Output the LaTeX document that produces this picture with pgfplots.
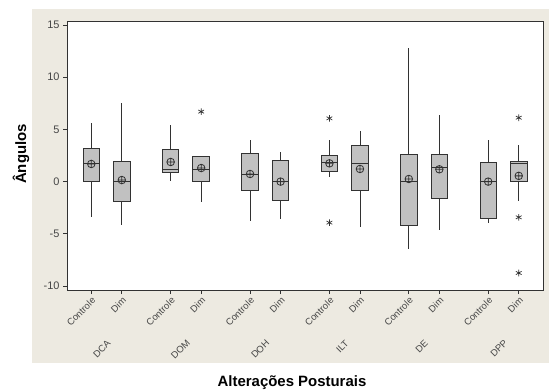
\documentclass[border=0pt]{standalone}
\usepackage{pgfplots}
\pgfplotsset{compat=1.18}
\usepgfplotslibrary{statistics}
\usepackage{fontspec}
\setmainfont{Liberation Sans}
\definecolor{panel}{RGB}{237,234,225}
\definecolor{boxfill}{RGB}{193,193,193}
\definecolor{boxline}{RGB}{50,50,50}
\definecolor{ticktext}{RGB}{70,70,70}
\pgfplotsset{
  mybox/.style={
    boxplot prepared={#1, box extend=0.54, whisker extend=0},
    boxplot/draw direction=y,
    draw=boxline, line width=0.9pt, solid,
    mark=asterisk, mark size=3.3bp,
    mark options={draw=boxline, line width=0.7pt, solid},
    boxplot/every box/.style={draw=boxline, fill=boxfill},
    boxplot/every median/.style={draw=boxline},
  },
}
\begin{document}
\begin{tikzpicture}
\path[use as bounding box] (0bp,0bp) rectangle (549bp,-392bp);
\fill[panel] (32bp,-9bp) rectangle (549bp,-363bp);
\begin{axis}[
  at={(67bp,-21bp)}, anchor=north west,
  width=476bp, height=269bp, scale only axis,
  xmin=-0.795, xmax=14.795, ymin=-10.38, ymax=15.38,
  axis background/.style={fill=white},
  axis line style={draw=boxline, line width=0.9pt},
  tick align=outside, xtick pos=bottom, ytick pos=left,
  major tick length=4bp,
  tick style={draw=boxline, line width=0.7pt},
  ytick={-10,-5,0,5,10,15},
  yticklabel style={font=\fontsize{11}{13}\selectfont, text=ticktext},
  /pgf/number format/assume math mode=true,
  xtick={0,1,2.6,3.6,5.2,6.2,7.8,8.8,10.4,11.4,13,14},
  xticklabels={Controle,Dim,Controle,Dim,Controle,Dim,Controle,Dim,Controle,Dim,Controle,Dim},
  xticklabel style={font=\fontsize{9.5}{11}\selectfont, text=ticktext, rotate=45, anchor=north east, inner sep=1.5bp},
  clip=false,
]
% DCA
\addplot[mybox={draw position=0, lower whisker=-3.36, lower quartile=0, median=1.75, upper quartile=3.22, upper whisker=5.58}] coordinates {};
\addplot[mybox={draw position=1, lower whisker=-4.16, lower quartile=-1.92, median=0, upper quartile=1.97, upper whisker=7.5}] coordinates {};
% DOM
\addplot[mybox={draw position=2.6, lower whisker=0.06, lower quartile=0.89, median=1.18, upper quartile=3.09, upper whisker=5.42}] coordinates {};
\addplot[mybox={draw position=3.6, lower whisker=-1.93, lower quartile=0, median=1.21, upper quartile=2.45, upper whisker=2.45}] table[row sep=\\, y index=0] {v\\ 6.7\\};
% DOH
\addplot[mybox={draw position=5.2, lower whisker=-3.74, lower quartile=-0.87, median=0.73, upper quartile=2.71, upper whisker=3.98}] coordinates {};
\addplot[mybox={draw position=6.2, lower whisker=-3.58, lower quartile=-1.83, median=0, upper quartile=2.07, upper whisker=2.87}] coordinates {};
% ILT
\addplot[mybox={draw position=7.8, lower whisker=0.44, lower quartile=1.0, median=1.8, upper quartile=2.46, upper whisker=3.98}] table[row sep=\\, y index=0] {v\\ 6.06\\ -3.93\\};
\addplot[mybox={draw position=8.8, lower whisker=-4.32, lower quartile=-0.85, median=1.7, upper quartile=3.49, upper whisker=4.85}] coordinates {};
% DE
\addplot[mybox={draw position=10.4, lower whisker=-6.49, lower quartile=-4.16, median=0, upper quartile=2.64, upper whisker=12.83}] coordinates {};
\addplot[mybox={draw position=11.4, lower whisker=-4.64, lower quartile=-1.6, median=1.33, upper quartile=2.64, upper whisker=6.38}] coordinates {};
% DPP
\addplot[mybox={draw position=13, lower whisker=-4.0, lower quartile=-3.52, median=0, upper quartile=1.8, upper whisker=3.98}] coordinates {};
\addplot[mybox={draw position=14, lower whisker=-1.85, lower quartile=0, median=1.78, upper quartile=1.97, upper whisker=3.5}] table[row sep=\\, y index=0] {v\\ 6.12\\ -3.42\\ -8.75\\};
% group means
\addplot[only marks, mark=oplus, mark size=3.8bp, mark options={draw=boxline, line width=0.8pt}] coordinates {
  (0,1.69) (1,0.15) (2.6,1.88) (3.6,1.3) (5.2,0.73) (6.2,0) (7.8,1.75) (8.8,1.21) (10.4,0.25) (11.4,1.18) (13,0) (14,0.55)
};
% group names under each pair
\foreach \gx/\gname in {0.5/DCA, 3.1/DOM, 5.7/DOH, 8.3/ILT, 10.9/DE, 13.5/DPP} {
  \edef\tmp{\noexpand\node[rotate=45, anchor=north east, font=\noexpand\fontsize{9.5}{11}\noexpand\selectfont, text=ticktext, inner sep=1.5bp]
    at ([yshift=-47bp]axis cs:\gx,-10.38) {\gname};}
  \tmp
}
\end{axis}
\node[rotate=90, font=\bfseries\fontsize{15}{17}\selectfont] at (21bp,-154bp) {Ângulos};
\node[font=\bfseries\fontsize{15}{17}\selectfont] at (292bp,-383bp) {Alterações Posturais};
\end{tikzpicture}
\end{document}
